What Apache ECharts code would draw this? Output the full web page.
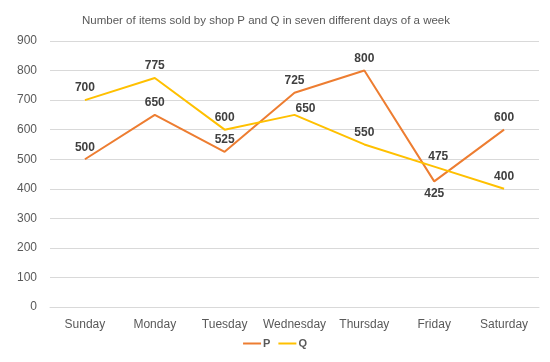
<!DOCTYPE html>
<html><head><meta charset="utf-8">
<script src="https://cdn.jsdelivr.net/npm/echarts@6/dist/echarts.min.js"></script>
<style>html,body{margin:0;padding:0;background:#fff}#c{width:550px;height:362px}</style>
</head><body><div id="c"></div>
<script>
const categories = ["Sunday","Monday","Tuesday","Wednesday","Thursday","Friday","Saturday"];
const seriesP = [500, 650, 525, 725, 800, 425, 600];
const seriesQ = [700, 775, 600, 650, 550, 475, 400];
const labelPosP = ["top","top","top","top","top","bottom","top"];
const labelPosQ = ["top","top","top","top","top","top","top"];
const labelOffsetQ = [[0,0],[0,0],[0,0],[11,6],[0,0],[4,2],[0,0]];
const FONT = "Liberation Sans, Arial, sans-serif";
function mk(vals, pos, offs){
  return vals.map((v,i)=>({value:v,label:{position:pos[i],offset:offs?offs[i]:[0,0]}}));
}
const chart = echarts.init(document.getElementById('c'), null, {renderer:'canvas'});
chart.setOption({
  animation:false,
  title:{text:"Number of items sold by shop P and Q in seven different days of a week",left:77,top:10,
    textStyle:{fontFamily:FONT,fontSize:11.5,fontWeight:'normal',color:'#595959'}},
  legend:{bottom:8,left:'center',itemWidth:18,itemHeight:2,itemGap:8,icon:'rect',
    textStyle:{fontFamily:FONT,fontSize:11,fontWeight:'bold',color:'#595959',padding:[0,0,0,-3]},data:['P','Q']},
  grid:{left:50,right:11,top:41,bottom:55},
  xAxis:{type:'category',data:categories,boundaryGap:true,
    axisLine:{lineStyle:{color:'#D9D9D9'}},axisTick:{show:false},
    axisLabel:{fontFamily:FONT,fontSize:12,color:'#595959',margin:12,interval:0}},
  yAxis:{type:'value',min:0,max:900,interval:100,
    axisLine:{show:false},axisTick:{show:false},
    splitLine:{lineStyle:{color:'#D9D9D9'}},
    axisLabel:{fontFamily:FONT,fontSize:12,color:'#595959',margin:13}},
  series:[
    {name:'P',type:'line',data:mk(seriesP,labelPosP),symbol:'circle',symbolSize:0,showSymbol:true,
     lineStyle:{color:'#ED7D31',width:2},itemStyle:{color:'#ED7D31'},
     label:{show:true,fontFamily:FONT,fontSize:12,fontWeight:'bold',color:'#404040',distance:6}},
    {name:'Q',type:'line',data:mk(seriesQ,labelPosQ,labelOffsetQ),symbol:'circle',symbolSize:0,showSymbol:true,
     lineStyle:{color:'#FFC000',width:2},itemStyle:{color:'#FFC000'},
     label:{show:true,fontFamily:FONT,fontSize:12,fontWeight:'bold',color:'#404040',distance:6}}
  ]
});
</script></body></html>
